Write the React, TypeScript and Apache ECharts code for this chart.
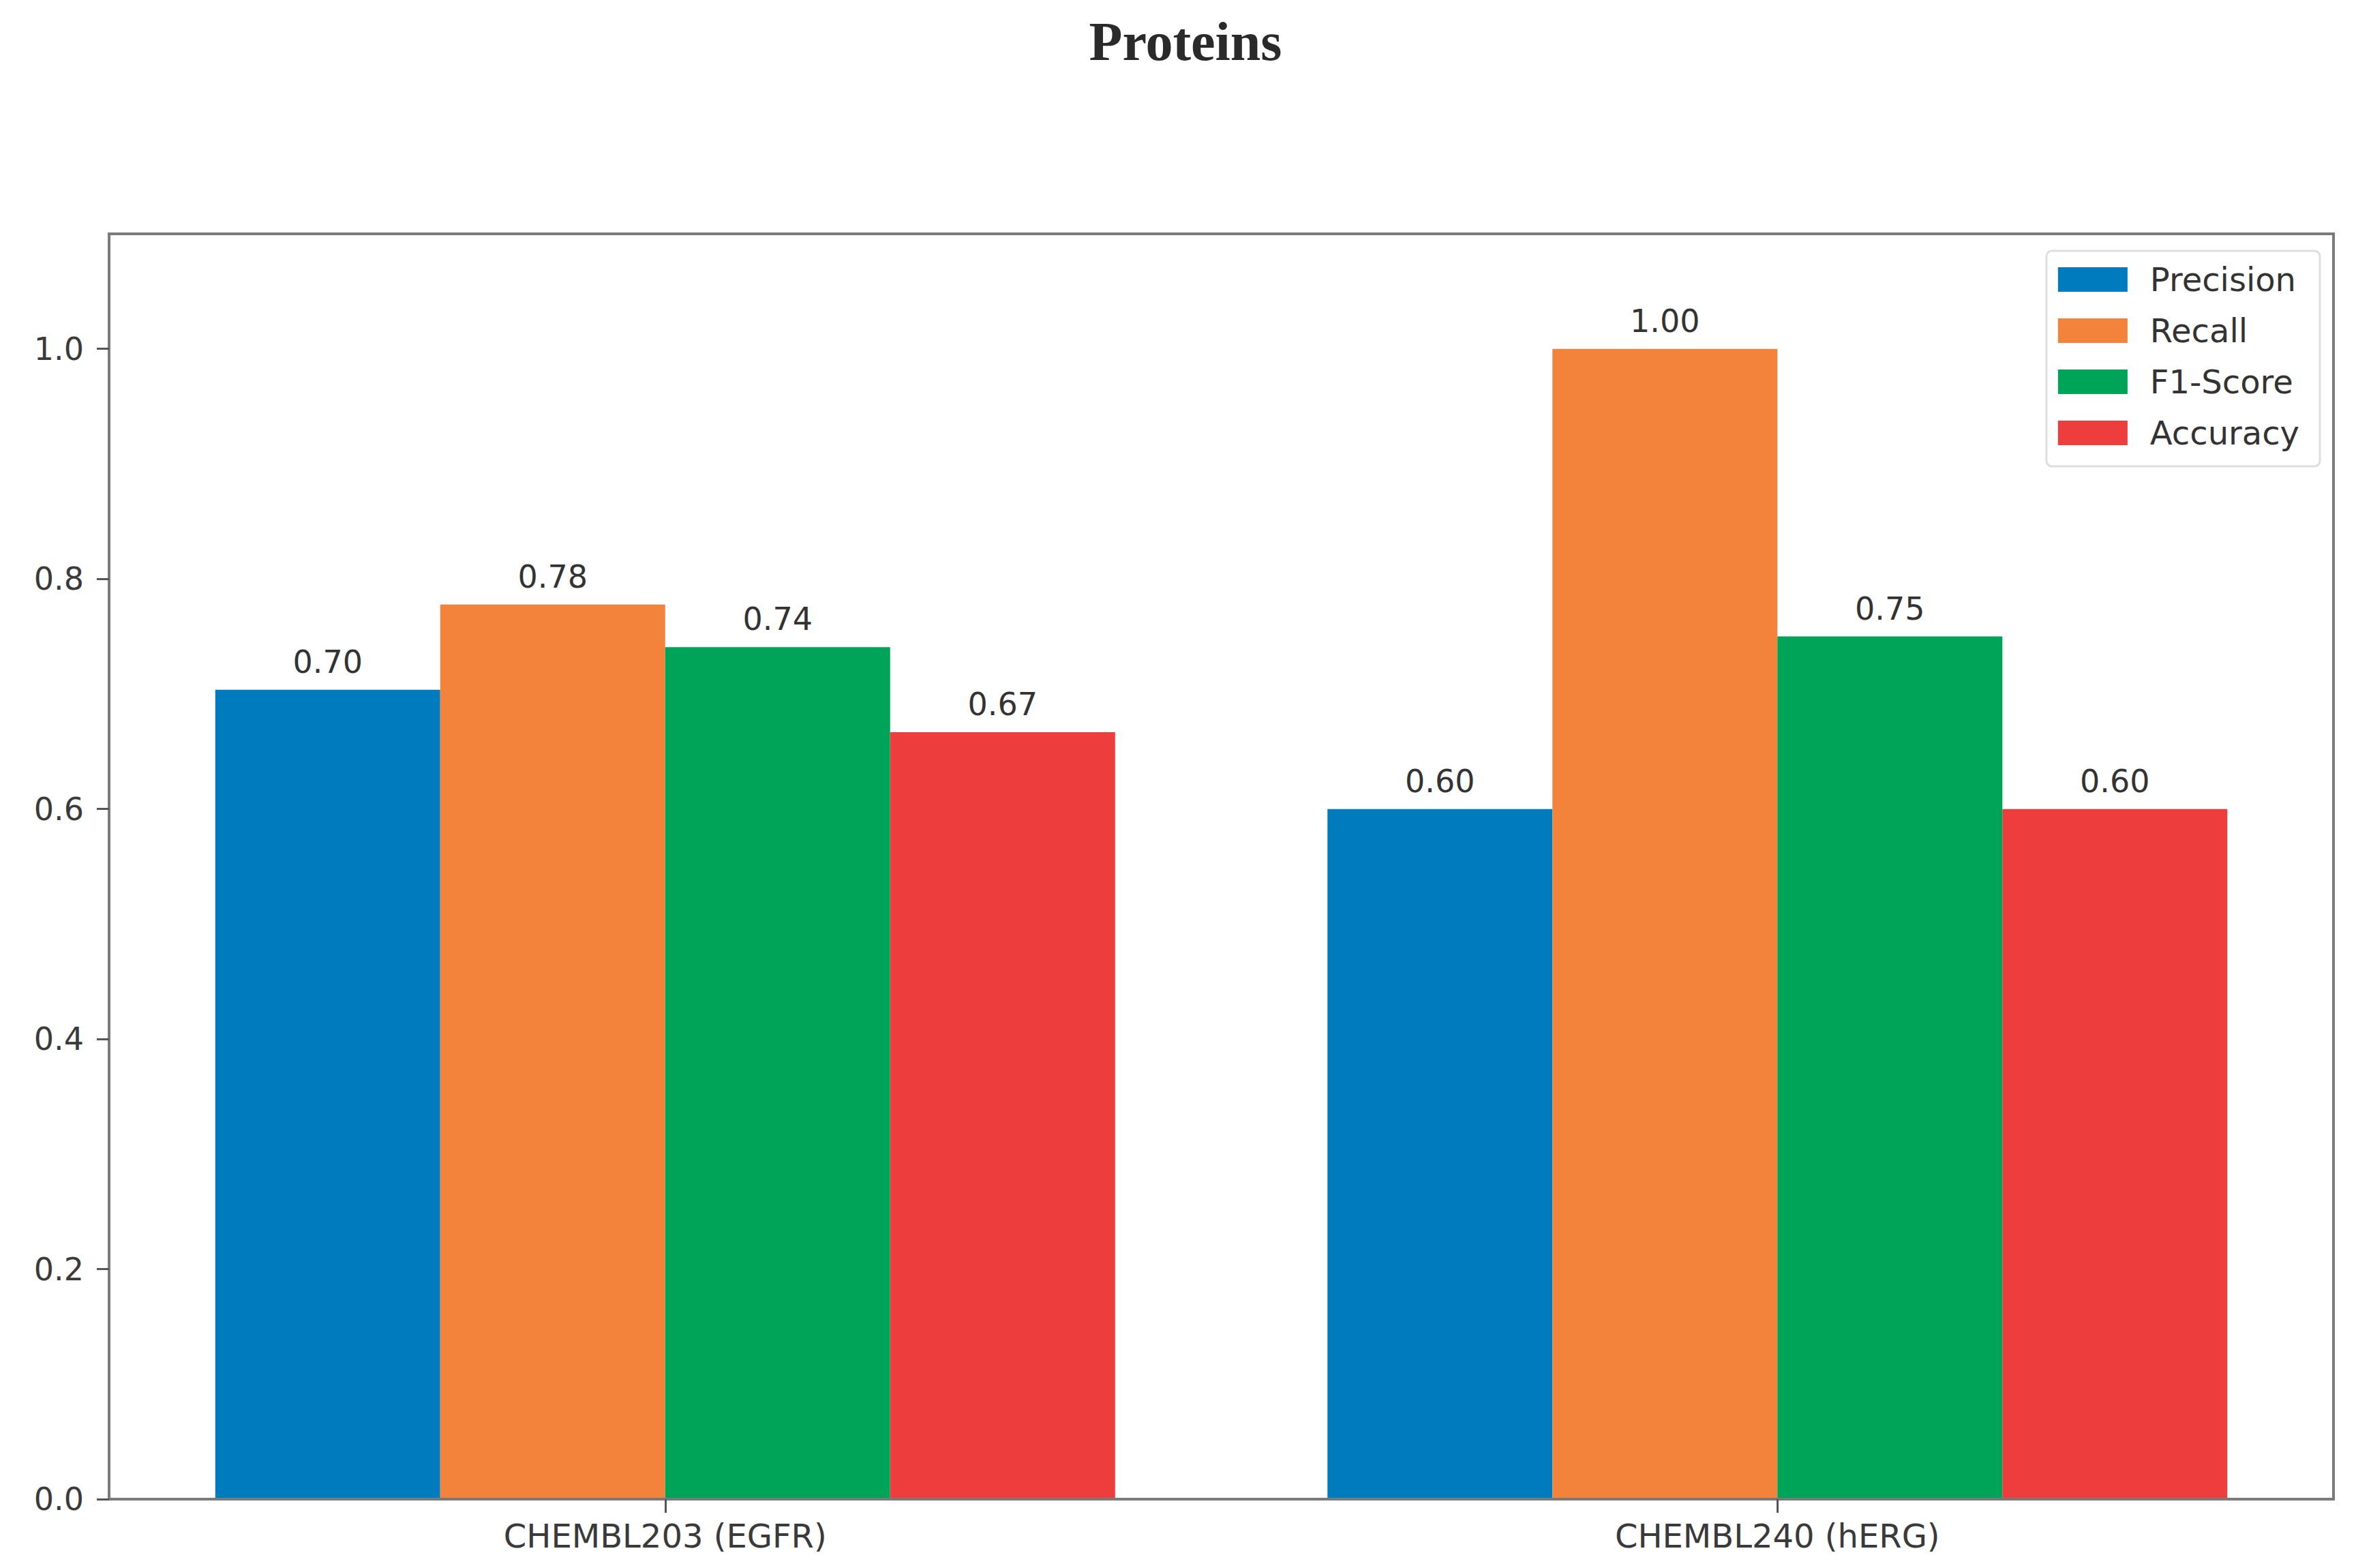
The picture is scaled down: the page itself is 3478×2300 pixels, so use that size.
import React, { useEffect, useRef } from "react";
import * as echarts from "echarts";

const categories = ["CHEMBL203 (EGFR)", "CHEMBL240 (hERG)"];
const seriesNames = ["Precision", "Recall", "F1-Score", "Accuracy"];
const precision = [0.7037, 0.6];
const recall = [0.7778, 1.0];
const f1Score = [0.7407, 0.75];
const accuracy = [0.6667, 0.6];
const colors = ["#007BBD", "#F3833A", "#00A459", "#EE3D3D"];
const yTicks = [0, 0.2, 0.4, 0.6, 0.8, 1.0];

const FONT = "DejaVu Sans";

export default function App() {
  const ref = useRef<HTMLDivElement>(null);
  useEffect(() => {
    document.body.style.margin = "0";
    const chart = echarts.init(ref.current!, null, { renderer: "svg" });
    const values = [precision, recall, f1Score, accuracy];
    chart.setOption({
      animation: false,
      backgroundColor: "#ffffff",
      title: {
        text: "Proteins",
        left: "center",
        top: 16,
        textStyle: {
          fontFamily: "Liberation Serif",
          fontWeight: "bold",
          fontSize: 80,
          color: "#2a2a2a",
        },
      },
      legend: {
        orient: "vertical",
        right: 75,
        top: 368,
        itemWidth: 102,
        itemHeight: 36,
        itemGap: 27,
        icon: "rect",
        padding: [18, 30, 25, 17],
        borderColor: "#dedede",
        borderWidth: 3,
        borderRadius: 8,
        backgroundColor: "rgba(255,255,255,0.85)",
        textStyle: { fontFamily: FONT, fontSize: 48, lineHeight: 48, color: "#333", padding: [0, 0, 0, 28] },
        data: seriesNames,
      },
      grid: {
        left: 160,
        right: 55,
        top: 343,
        bottom: 101,
        show: true,
        borderColor: "#7a7a7a",
        borderWidth: 4,
        backgroundColor: "transparent",
      },
      xAxis: {
        type: "category",
        data: categories,
        z: 10,
        axisLine: { show: true, lineStyle: { color: "#7a7a7a", width: 4 } },
        axisTick: { show: true, alignWithLabel: true, length: 20, lineStyle: { color: "#555", width: 3 } },
        axisLabel: { fontFamily: FONT, fontSize: 48, color: "#3a3a3a", margin: 30 },
      },
      yAxis: {
        type: "value",
        min: 0,
        max: 1.1,
        interval: 0.2,
        z: 10,
        splitLine: { show: false },
        axisLine: { show: true, lineStyle: { color: "#7a7a7a", width: 4 } },
        axisTick: { show: true, length: 18, lineStyle: { color: "#555", width: 3 }, customValues: yTicks },
        axisLabel: {
          fontFamily: FONT,
          fontSize: 46,
          color: "#3a3a3a",
          margin: 37,
          customValues: yTicks,
          formatter: (v: number) => v.toFixed(1),
        },
      },
      series: seriesNames.map((name, i) => ({
        name,
        type: "bar",
        data: values[i],
        barWidth: 330,
        barGap: "0%",
        itemStyle: { color: colors[i] },
        label: {
          show: true,
          position: "top",
          distance: 18,
          fontFamily: FONT,
          fontSize: 46,
          color: "#333",
          formatter: (p: any) => (p.value as number).toFixed(2),
        },
      })),
    });
    return () => chart.dispose();
  }, []);
  return <div ref={ref} style={{ width: 3478, height: 2300 }} />;
}
